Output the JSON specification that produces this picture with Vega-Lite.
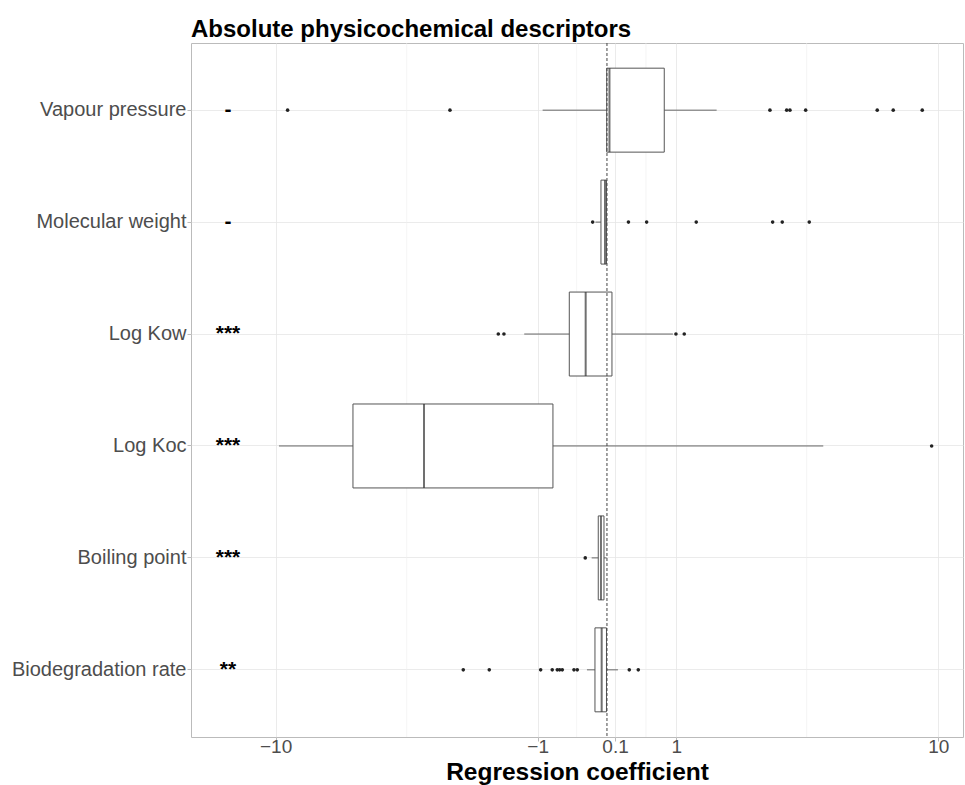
{
  "$schema": "https://vega.github.io/schema/vega-lite/v6.json",
  "width": 772,
  "height": 694,
  "autosize": {"type": "none"},
  "padding": {"left": 191, "top": 43, "right": 2, "bottom": 48},
  "background": "white",
  "title": {"text": "Absolute physicochemical descriptors", "anchor": "start", "frame": "group", "font": "Liberation Sans", "fontSize": 24, "fontWeight": "bold", "color": "black", "offset": 1},
  "config": {
    "view": {"stroke": "#BBBBBB", "strokeWidth": 1},
    "axis": {"labelFont": "Liberation Sans", "titleFont": "Liberation Sans", "labelColor": "#4D4D4D", "tickColor": "#BBBBBB", "tickSize": 4, "domain": false, "gridColor": "#E6E6E6", "gridWidth": 0.8}
  },
  "datasets": {
    "boxes": [
      {"descriptor": "Vapour pressure", "lower": -0.917, "q1": -0.003, "median": 0.0305, "q3": 0.802, "upper": 1.759, "sig": "-"},
      {"descriptor": "Molecular weight", "lower": -0.1436, "q1": -0.0739, "median": -0.0243, "q3": -0.006, "upper": 0.006, "sig": "-"},
      {"descriptor": "Log Kow", "lower": -1.236, "q1": -0.502, "median": -0.2725, "q3": 0.0615, "upper": 0.944, "sig": "***"},
      {"descriptor": "Log Koc", "lower": -9.797, "q1": -6.084, "median": -3.58, "q3": -0.75, "upper": 4.648, "sig": "***"},
      {"descriptor": "Boiling point", "lower": -0.1928, "q1": -0.1079, "median": -0.0739, "q3": -0.0366, "upper": -0.004, "sig": "***"},
      {"descriptor": "Biodegradation rate", "lower": -0.255, "q1": -0.15, "median": -0.0652, "q3": -0.006, "upper": 0.137, "sig": "**"}
    ],
    "outliers": [
      {"descriptor": "Vapour pressure", "value": -9.29},
      {"descriptor": "Vapour pressure", "value": -2.859},
      {"descriptor": "Vapour pressure", "value": 3.017},
      {"descriptor": "Vapour pressure", "value": 3.484},
      {"descriptor": "Vapour pressure", "value": 3.58},
      {"descriptor": "Vapour pressure", "value": 4.062},
      {"descriptor": "Vapour pressure", "value": 6.79},
      {"descriptor": "Vapour pressure", "value": 7.54},
      {"descriptor": "Vapour pressure", "value": 9.06},
      {"descriptor": "Molecular weight", "value": -0.1798},
      {"descriptor": "Molecular weight", "value": 0.275},
      {"descriptor": "Molecular weight", "value": 0.5315},
      {"descriptor": "Molecular weight", "value": 1.357},
      {"descriptor": "Molecular weight", "value": 3.09},
      {"descriptor": "Molecular weight", "value": 3.357},
      {"descriptor": "Molecular weight", "value": 4.178},
      {"descriptor": "Log Kow", "value": -1.738},
      {"descriptor": "Log Kow", "value": -1.623},
      {"descriptor": "Log Kow", "value": 0.995},
      {"descriptor": "Log Kow", "value": 1.139},
      {"descriptor": "Log Koc", "value": 9.6},
      {"descriptor": "Boiling point", "value": -0.2778},
      {"descriptor": "Biodegradation rate", "value": -2.524},
      {"descriptor": "Biodegradation rate", "value": -1.928},
      {"descriptor": "Biodegradation rate", "value": -0.95},
      {"descriptor": "Biodegradation rate", "value": -0.761},
      {"descriptor": "Biodegradation rate", "value": -0.6825},
      {"descriptor": "Biodegradation rate", "value": -0.6455},
      {"descriptor": "Biodegradation rate", "value": -0.606},
      {"descriptor": "Biodegradation rate", "value": -0.4345},
      {"descriptor": "Biodegradation rate", "value": -0.388},
      {"descriptor": "Biodegradation rate", "value": 0.286},
      {"descriptor": "Biodegradation rate", "value": 0.4105}
    ],
    "minor": [
      {"v": -4.113}, {"v": -0.3965}, {"v": 0.521}, {"v": 4.094}
    ]
  },
  "encoding": {
    "y": {
      "field": "descriptor", "type": "nominal",
      "scale": {"type": "band", "domain": ["Vapour pressure", "Molecular weight", "Log Kow", "Log Koc", "Boiling point", "Biodegradation rate"], "paddingInner": 0.25, "paddingOuter": 0.225},
      "axis": {"title": null, "labelFontSize": 20, "labelPadding": 1, "bandPosition": 0.5, "grid": true}
    }
  },
  "layer": [
    {
      "data": {"name": "minor"},
      "mark": {"type": "rule", "color": "#EEEEEE", "strokeWidth": 0.6},
      "encoding": {"x": {"field": "v", "type": "quantitative"}, "y": null}
    },
    {
      "data": {"name": "boxes"},
      "mark": {"type": "rule", "color": "#666666", "strokeWidth": 1},
      "encoding": {
        "x": {"field": "lower", "type": "quantitative",
          "scale": {"type": "symlog", "constant": 2.5, "domain": [-16.35, 11.59], "nice": false, "zero": false},
          "axis": {"values": [-10, -1, 0.1, 1, 10], "format": "~g", "labelFontSize": 19, "labelPadding": -4, "title": "Regression coefficient", "titleFontSize": 24.5, "titleFontWeight": "bold", "titleColor": "black", "titlePadding": 4, "grid": true}},
        "x2": {"field": "upper"}
      }
    },
    {
      "data": {"name": "boxes"},
      "mark": {"type": "bar", "fill": "white", "stroke": "#555555", "strokeWidth": 1},
      "encoding": {"x": {"field": "q1", "type": "quantitative"}, "x2": {"field": "q3"}}
    },
    {
      "data": {"name": "boxes"},
      "mark": {"type": "tick", "color": "#333333", "size": 84, "thickness": 2, "orient": "vertical"},
      "encoding": {"x": {"field": "median", "type": "quantitative"}}
    },
    {
      "data": {"name": "outliers"},
      "mark": {"type": "circle", "color": "#222222", "size": 13, "opacity": 1},
      "encoding": {"x": {"field": "value", "type": "quantitative"}}
    },
    {
      "data": {"name": "boxes"},
      "mark": {"type": "text", "font": "Liberation Sans", "fontSize": 21, "fontWeight": "bold", "color": "black", "baseline": "middle", "align": "center"},
      "encoding": {"x": {"datum": -13.25, "type": "quantitative"}, "text": {"field": "sig"}}
    },
    {
      "data": {"values": [{}]},
      "mark": {"type": "rule", "color": "#444444", "strokeWidth": 1, "strokeDash": [3, 2]},
      "encoding": {"x": {"datum": 0, "type": "quantitative"}, "y": null}
    }
  ]
}
